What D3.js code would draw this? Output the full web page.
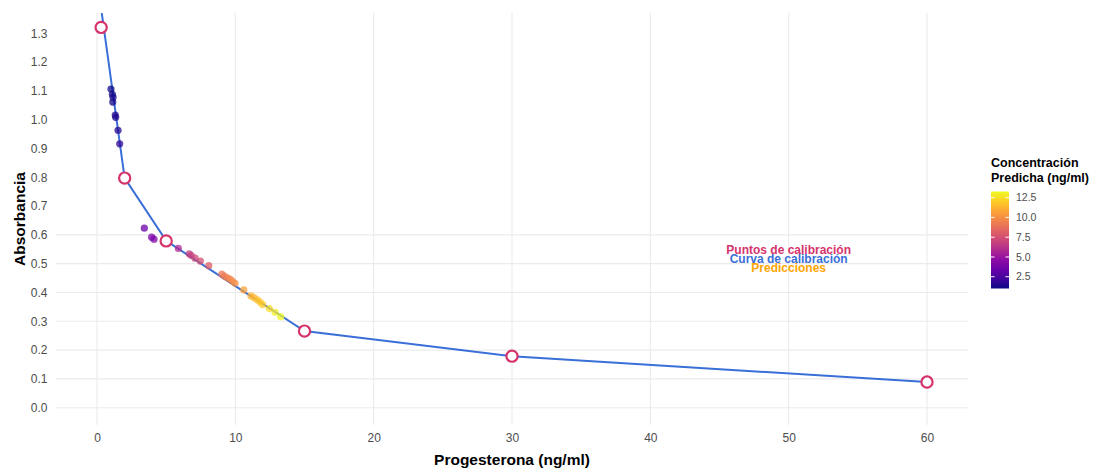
<!DOCTYPE html>
<html>
<head>
<meta charset="utf-8">
<script src="https://cdn.jsdelivr.net/npm/d3@7"></script>
<style>
  body { margin: 0; background: white; }
  text { font-family: "Liberation Sans", Arial, sans-serif; }
</style>
</head>
<body>
<div id="chart"></div>
<script>
// calibration standards
let calibX = [0.3, 2, 5, 15, 30, 60];
let calibY = [1.32, 0.797, 0.579, 0.266, 0.179, 0.089];

// calibration curve (clipped at the top of the panel)
let curveX = [0.3, 2, 5, 15, 30, 60];
let curveY = [1.385, 0.797, 0.579, 0.266, 0.179, 0.089];

// predicted samples
let predX = [1.01, 1.11, 1.16, 1.14, 1.32, 1.35, 1.52, 1.64, 3.42, 3.95, 4.12, 5.88, 6.67, 6.82, 7.09, 7.47, 8.08,
             9.02, 9.21, 9.42, 9.62, 9.81, 9.98, 10.61, 11.13, 11.35, 11.59, 11.79, 11.98, 12.46, 12.87, 13.28];
let predY = [1.106, 1.088, 1.078, 1.061, 1.016, 1.008, 0.963, 0.916, 0.623, 0.592, 0.585, 0.553, 0.534, 0.528, 0.519, 0.509, 0.493,
             0.464, 0.457, 0.451, 0.446, 0.439, 0.432, 0.409, 0.388, 0.382, 0.374, 0.367, 0.358, 0.344, 0.331, 0.316];

let xTicks = [0, 10, 20, 30, 40, 50, 60];
let yTicks = [0, 0.1, 0.2, 0.3, 0.4, 0.5, 0.6, 0.7, 0.8, 0.9, 1.0, 1.1, 1.2, 1.3];
let yGrid = [0, 0.1, 0.2, 0.3, 0.4, 0.5, 0.6];
let legendTicks = [2.5, 5.0, 7.5, 10.0, 12.5];

let notes = ['Puntos de calibración', 'Curva de calibración', 'Predicciones'];
let notesY = [0.548, 0.516, 0.485];
let notesX = 50;

let calibColor = '#d6336c';
let curveColor = '#3a6fd8';
let predNoteColor = '#ffa500';

let totalWidth = 1101;
let totalHeight = 469;
let panel = { left: 55.5, right: 968.5, top: 13, bottom: 425 };

let svg = d3.select('#chart')
    .append('svg')
    .attr('width', totalWidth)
    .attr('height', totalHeight);

let xScale = d3.scaleLinear().domain([-3, 63]).range([panel.left, panel.right]);
let yScale = d3.scaleLinear().domain([-0.06, 1.37]).range([panel.bottom, panel.top]);
let colorScale = d3.scaleSequential(d3.interpolatePlasma).domain(d3.extent(predX));

svg.append('clipPath')
    .attr('id', 'panelClip')
    .append('rect')
    .attr('x', panel.left)
    .attr('y', panel.top)
    .attr('width', panel.right - panel.left)
    .attr('height', panel.bottom - panel.top);

// grid
svg.append('g')
    .selectAll('line')
    .data(xTicks)
    .enter()
    .append('line')
    .attr('x1', d => xScale(d))
    .attr('x2', d => xScale(d))
    .attr('y1', panel.top)
    .attr('y2', panel.bottom)
    .style('stroke', '#ebebeb')
    .style('stroke-width', 1.1);

svg.append('g')
    .selectAll('line')
    .data(yGrid)
    .enter()
    .append('line')
    .attr('x1', panel.left)
    .attr('x2', panel.right)
    .attr('y1', d => yScale(d))
    .attr('y2', d => yScale(d))
    .style('stroke', '#ebebeb')
    .style('stroke-width', 1.1);

// axes (text only)
let xAxis = d3.axisBottom(xScale).tickValues(xTicks).tickSize(0).tickPadding(8);
let yAxis = d3.axisLeft(yScale).tickValues(yTicks).tickSize(0).tickPadding(8).tickFormat(d3.format('.1f'));

svg.append('g')
    .attr('transform', `translate(0, ${panel.bottom})`)
    .call(xAxis)
    .call(g => g.select('.domain').remove())
    .selectAll('text')
    .style('font-size', '12px')
    .style('fill', '#4d4d4d');

svg.append('g')
    .attr('transform', `translate(${panel.left}, 0)`)
    .call(yAxis)
    .call(g => g.select('.domain').remove())
    .selectAll('text')
    .style('font-size', '12px')
    .style('fill', '#4d4d4d');

svg.append('text')
    .attr('x', (panel.left + panel.right) / 2)
    .attr('y', 465)
    .attr('text-anchor', 'middle')
    .style('font-size', '15.5px')
    .style('font-weight', 'bold')
    .text('Progesterona (ng/ml)');

svg.append('text')
    .attr('transform', `translate(25, ${(panel.top + panel.bottom) / 2}) rotate(-90)`)
    .attr('text-anchor', 'middle')
    .style('font-size', '15.5px')
    .style('font-weight', 'bold')
    .text('Absorbancia');

// curve
let line = d3.line()
    .x(d => xScale(d[0]))
    .y(d => yScale(d[1]));

svg.append('path')
    .datum(d3.zip(curveX, curveY))
    .attr('clip-path', 'url(#panelClip)')
    .attr('d', line)
    .style('fill', 'none')
    .style('stroke', curveColor)
    .style('stroke-width', 2);

// predictions
svg.append('g')
    .selectAll('circle')
    .data(d3.zip(predX, predY))
    .enter()
    .append('circle')
    .attr('cx', d => xScale(d[0]))
    .attr('cy', d => yScale(d[1]))
    .attr('r', 3.6)
    .style('fill', d => colorScale(d[0]))
    .style('opacity', 0.75);

// calibration points
svg.append('g')
    .selectAll('circle')
    .data(d3.zip(calibX, calibY))
    .enter()
    .append('circle')
    .attr('cx', d => xScale(d[0]))
    .attr('cy', d => yScale(d[1]))
    .attr('r', 5.6)
    .style('fill', 'white')
    .style('stroke', calibColor)
    .style('stroke-width', 2.2);

// annotations
let noteColors = [calibColor, curveColor, predNoteColor];
svg.append('g')
    .selectAll('text')
    .data(notes)
    .enter()
    .append('text')
    .attr('x', xScale(notesX))
    .attr('y', (d, i) => yScale(notesY[i]))
    .attr('dy', '0.35em')
    .attr('text-anchor', 'middle')
    .style('font-size', '12px')
    .style('font-weight', 'bold')
    .style('fill', (d, i) => noteColors[i])
    .text(d => d);

// colour legend
let legendX = 991;
let barWidth = 18;
let legendScale = d3.scaleLinear().domain(colorScale.domain()).range([288.5, 191.5]);

svg.append('text')
    .attr('x', legendX)
    .attr('y', 167)
    .style('font-size', '12.5px')
    .style('font-weight', 'bold')
    .text('Concentración');

svg.append('text')
    .attr('x', legendX)
    .attr('y', 182)
    .style('font-size', '12.5px')
    .style('font-weight', 'bold')
    .text('Predicha (ng/ml)');

let grad = svg.append('defs')
    .append('linearGradient')
    .attr('id', 'plasmaGrad')
    .attr('x1', 0).attr('y1', 1).attr('x2', 0).attr('y2', 0);

grad.selectAll('stop')
    .data(d3.range(0, 1.01, 0.1))
    .enter()
    .append('stop')
    .attr('offset', d => d)
    .attr('stop-color', d => d3.interpolatePlasma(d));

svg.append('rect')
    .attr('x', legendX)
    .attr('y', legendScale.range()[1])
    .attr('width', barWidth)
    .attr('height', legendScale.range()[0] - legendScale.range()[1])
    .style('fill', 'url(#plasmaGrad)');

let legendTick = svg.append('g')
    .selectAll('g')
    .data(legendTicks)
    .enter()
    .append('g')
    .attr('transform', d => `translate(0, ${legendScale(d)})`);

legendTick.append('line')
    .attr('x1', legendX).attr('x2', legendX + 3.5)
    .style('stroke', 'white');
legendTick.append('line')
    .attr('x1', legendX + barWidth - 3.5).attr('x2', legendX + barWidth)
    .style('stroke', 'white');

legendTick.append('text')
    .attr('x', legendX + barWidth + 7)
    .attr('dy', '0.35em')
    .style('font-size', '10.5px')
    .style('fill', '#4d4d4d')
    .text(d => d3.format('.1f')(d));
</script>
</body>
</html>
